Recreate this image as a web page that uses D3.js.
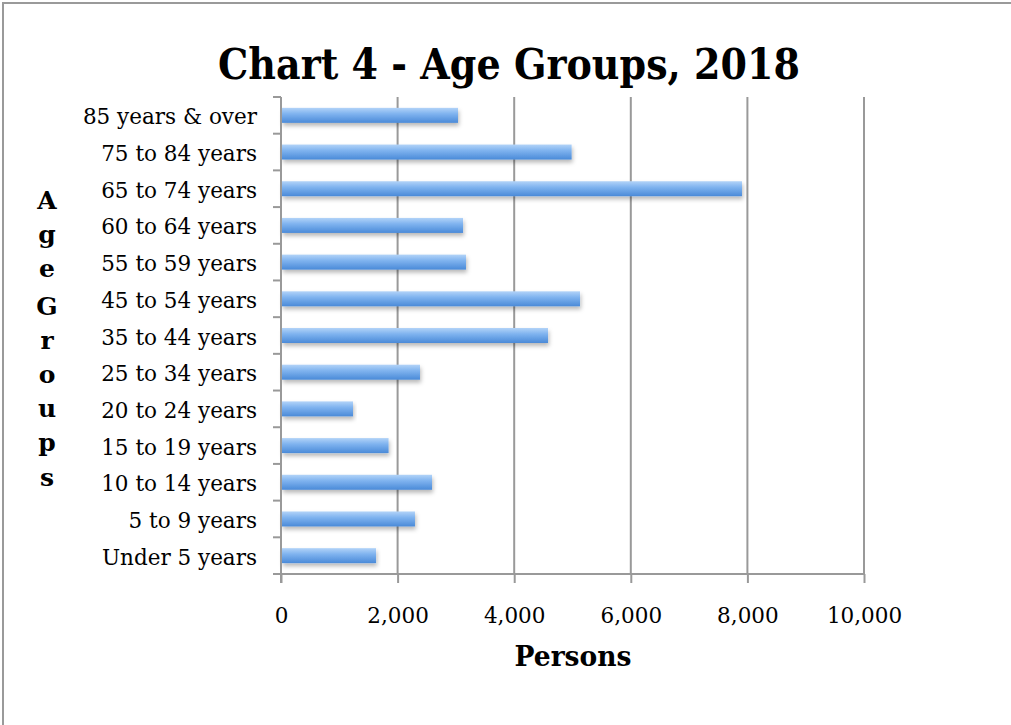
<!DOCTYPE html>
<html><head><meta charset="utf-8">
<script src="https://cdn.jsdelivr.net/npm/d3@7"></script>
<style>body{margin:0;background:#fff;overflow:hidden}svg{display:block}</style>
</head><body><svg id="c" width="1011" height="725"></svg>
<script>
const categories = ["Under 5 years","5 to 9 years","10 to 14 years","15 to 19 years","20 to 24 years","25 to 34 years","35 to 44 years","45 to 54 years","55 to 59 years","60 to 64 years","65 to 74 years","75 to 84 years","85 years & over"];
const persons = [1630,2298,2590,1845,1235,2384,4580,5129,3173,3122,7907,4985,3036];
const xTicks = [0,2000,4000,6000,8000,10000];
const title = "Chart 4 - Age Groups, 2018";
const xTitle = "Persons";
const yTitle = "Age Groups";

const svg = d3.select("#c");
const serif = "'DejaVu Serif', serif";
const L = 281, R = 864, T = 97, B = 574;
const x = d3.scaleLinear().domain([0,10000]).range([L,R]);
const y = d3.scaleBand().domain(categories.slice().reverse()).range([T,B]);

// border (top and left visible)
svg.append("rect").attr("x",3).attr("y",3).attr("width",1100).attr("height",800)
  .attr("fill","none").attr("stroke","#9a9a9a").attr("stroke-width",2);

const defs = svg.append("defs");
const g = defs.append("linearGradient").attr("id","bg").attr("x1",0).attr("y1",0).attr("x2",0).attr("y2",1);
g.append("stop").attr("offset","0%").attr("stop-color","#b2d3f8");
g.append("stop").attr("offset","40%").attr("stop-color","#7fb3ef");
g.append("stop").attr("offset","100%").attr("stop-color","#4a8ad8");
const f = defs.append("filter").attr("id","sh").attr("x","-5%").attr("y","-50%").attr("width","110%").attr("height","250%");
f.append("feDropShadow").attr("dx",1).attr("dy",3).attr("stdDeviation",2.2).attr("flood-color","#000").attr("flood-opacity",0.28);

// gridlines
svg.append("g").selectAll("line").data(xTicks.filter(d=>d>0)).join("line")
  .attr("x1",d=>x(d)).attr("x2",d=>x(d)).attr("y1",T).attr("y2",B)
  .attr("stroke","#999").attr("stroke-width",2);

// bars
const bh = 15;
svg.append("g").selectAll("rect").data(categories).join("rect")
  .attr("x",x(0)+1).attr("y",d=>y(d)+y.bandwidth()/2-bh/2)
  .attr("width",(d,i)=>x(persons[i])-x(0)-1).attr("height",bh)
  .attr("fill","url(#bg)").attr("filter","url(#sh)");

// x axis
const xa = svg.append("g").attr("transform",`translate(0,${B})`)
  .call(d3.axisBottom(x).tickValues(xTicks).tickSize(9).tickFormat(d3.format(",")));
xa.select(".domain").remove();
xa.append("line").attr("x1",273).attr("x2",R+1).attr("y1",0).attr("y2",0).attr("stroke","#999").attr("stroke-width",2);
xa.selectAll(".tick line").attr("stroke","#999").attr("stroke-width",2);
xa.selectAll(".tick text").attr("font-family",serif).attr("font-size",21.5).attr("fill","#000").attr("y",34);

// y axis
const ya = svg.append("g").attr("transform",`translate(${L},0)`)
  .call(d3.axisLeft(y).tickSize(0).tickPadding(24));
ya.select(".domain").remove();
ya.append("line").attr("x1",0).attr("x2",0).attr("y1",T).attr("y2",B+9).attr("stroke","#999").attr("stroke-width",2);
const bounds = y.domain().map(d=>y(d)).concat([B]);
ya.selectAll(".bt").data(bounds).join("line").attr("class","bt")
  .attr("x1",-8).attr("x2",0).attr("y1",d=>d).attr("y2",d=>d).attr("stroke","#999").attr("stroke-width",2);
ya.selectAll(".tick text").attr("font-family",serif).attr("font-size",21.5).attr("fill","#000").attr("dy","0.42em");

// title
svg.append("text").attr("x",509).attr("y",79).attr("text-anchor","middle")
  .attr("font-family",serif).attr("font-weight","bold").attr("font-size",43)
  .attr("textLength",582).attr("lengthAdjust","spacingAndGlyphs").text(title);

// x title
svg.append("text").attr("x",573).attr("y",666).attr("text-anchor","middle")
  .attr("font-family",serif).attr("font-weight","bold").attr("font-size",27)
  .attr("textLength",117).attr("lengthAdjust","spacingAndGlyphs").text(xTitle);

// y title stacked
const letters = yTitle.replace(" ","").split("");
svg.append("g").selectAll("text").data(letters).join("text")
  .attr("x",47).attr("y",(d,i)=>209 + i*34.2 + (i>=3?3:0)).attr("text-anchor","middle")
  .attr("font-family",serif).attr("font-weight","bold").attr("font-size",25).text(d=>d);
</script></body></html>
